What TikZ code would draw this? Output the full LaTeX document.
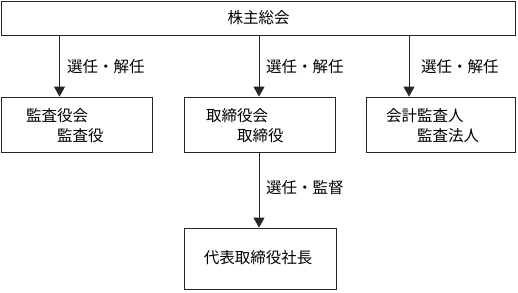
\documentclass[tikz,border=0pt]{standalone}
\usepackage{fontspec}
\setmainfont{Noto Sans CJK JP}
\usetikzlibrary{arrows.meta}
\begin{document}
\begin{tikzpicture}[x=1bp,y=-1bp,
  box/.style={draw=black!85,line width=0.8bp,inner sep=0pt},
  txt/.style={inner sep=0pt,font=\fontsize{15.5bp}{18bp}\selectfont},
  arr/.style={draw=black!85,line width=0.8bp,-{Triangle[length=10bp,width=11bp]}},
  lbl/.style={txt,anchor=west}]
\useasboundingbox (0,0) rectangle (518,292);
\node[box,minimum width=514bp,minimum height=34bp] (top) at (258.5,18) {};
\node[txt] (toptxt) at (258.5,18) {株主総会};
\node[box,minimum width=151bp,minimum height=55bp] (kansa) at (76.5,124.5) {};
\node[box,minimum width=151bp,minimum height=55bp] (tori) at (259.5,124.5) {};
\node[box,minimum width=149bp,minimum height=55bp] (kaikei) at (440.5,124.5) {};
\node[box,minimum width=152bp,minimum height=61bp] (daihyo) at (260,258.5) {};
\node[lbl] (k1) at (26,116) {監査役会};
\node[lbl] (k2) at (57,136) {監査役};
\node[lbl] (t1) at (206,116) {取締役会};
\node[lbl] (t2) at (237,136) {取締役};
\node[lbl] (a1) at (386,116) {会計監査人};
\node[lbl] (a2) at (417,136) {監査法人};
\node[txt] (dtxt) at (258,258) {代表取締役社長};
\coordinate (s1) at (59.5,35);
\coordinate (s2) at (259,35);
\coordinate (s3) at (409,35);
\draw[arr] (s1) -- (s1 |- kansa.north);
\draw[arr] (s2) -- (s2 |- tori.north);
\draw[arr] (s3) -- (s3 |- kaikei.north);
\coordinate (s4) at (259,152);
\draw[arr] (s4) -- (s4 |- daihyo.north);
\node[lbl] (l1) at (67,67) {選任・解任};
\node[lbl] (l2) at (266,67) {選任・解任};
\node[lbl] (l3) at (421,67) {選任・解任};
\node[lbl] (l4) at (266,188) {選任・監督};
\end{tikzpicture}
\end{document}
